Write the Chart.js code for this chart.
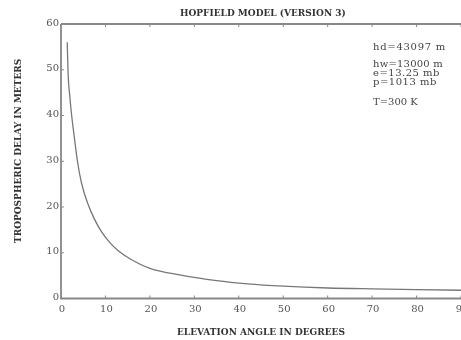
<!DOCTYPE html>
<html>
<head>
<meta charset="utf-8">
<script src="https://cdn.jsdelivr.net/npm/chart.js@4"></script>
<style>
  body { margin: 0; background: #fff; }
  #canvasDoThi { display: block; }
</style>
</head>
<body>
<canvas id="canvasDoThi" width="461" height="340"></canvas>
<script>
// du lieu doc tu hinh
var elevation = [1.4, 1.6, 2.0, 2.4, 2.9, 3.7, 4.6, 6.0, 7.5, 9.1, 11, 12.8, 15.5, 20, 27, 35, 42, 50, 60, 70, 80, 90];
var delay = [56, 49, 44, 40, 36, 30, 25.3, 20.8, 17.4, 14.6, 12.2, 10.5, 8.7, 6.6, 5.1, 3.9, 3.2, 2.7, 2.3, 2.1, 1.95, 1.8];
var xTicks = [0, 10, 20, 30, 40, 50, 60, 70, 80, 90];
var yTicks = [0, 10, 20, 30, 40, 50, 60];
var paramText = [["hd=43097 m", 47, 73], ["hw=13000 m", 64, 70], ["e=13.25 mb", 73, 67], ["p=1013 mb", 82, 64], ["T=300 K", 102, 44]];

var ink = '#555';
var serif = '"DejaVu Serif", "Liberation Serif", serif';

// viet chu gian cho vua be rong
function VietChu(ctx, text, x, y, w) {
    ctx.letterSpacing = '0px';
    var m = ctx.measureText(text).width;
    var sp = (w - m) / text.length;
    ctx.letterSpacing = (sp > 0 ? sp : 0) + 'px';
    ctx.fillText(text, x, y);
    ctx.letterSpacing = '0px';
}

// khung, vach chia, chu
var khung = {
    id: 'khung',
    afterDraw: function (chart) {
        var ctx = chart.ctx, a = chart.chartArea;
        var sx = chart.scales.x, sy = chart.scales.y;
        ctx.save();
        ctx.strokeStyle = '#888';
        ctx.lineWidth = 1.8;
        ctx.beginPath();
        ctx.moveTo(a.left, a.top); ctx.lineTo(a.right + 2, a.top);
        ctx.moveTo(a.left, a.top); ctx.lineTo(a.left, a.bottom);
        ctx.lineTo(a.right + 2, a.bottom);
        ctx.stroke();

        ctx.lineWidth = 1;
        ctx.beginPath();
        for (var i in xTicks) {
            var px = sx.getPixelForValue(xTicks[i]);
            ctx.moveTo(px, a.bottom); ctx.lineTo(px, a.bottom - 3);
            ctx.moveTo(px, a.top); ctx.lineTo(px, a.top + 3);
        }
        for (var j in yTicks) {
            var py = sy.getPixelForValue(yTicks[j]);
            ctx.moveTo(a.left, py); ctx.lineTo(a.left + 3, py);
        }
        ctx.stroke();

        ctx.fillStyle = ink;
        ctx.font = '10px ' + serif;
        ctx.textAlign = 'center';
        ctx.textBaseline = 'middle';
        for (var i in xTicks) {
            ctx.fillText(String(xTicks[i]), sx.getPixelForValue(xTicks[i]) + 1, a.bottom + 11);
        }
        ctx.textAlign = 'right';
        for (var j in yTicks) {
            ctx.fillText(String(yTicks[j]), a.left - 2, sy.getPixelForValue(yTicks[j]) - 1);
        }

        ctx.fillStyle = '#333';
        ctx.font = 'bold 9px ' + serif;
        ctx.textAlign = 'left';
        VietChu(ctx, 'HOPFIELD MODEL (VERSION 3)', 180, 14, 165);
        VietChu(ctx, 'ELEVATION ANGLE IN DEGREES', 177, 333, 168);
        ctx.save();
        ctx.translate(19, 243);
        ctx.rotate(-Math.PI / 2);
        VietChu(ctx, 'TROPOSPHERIC DELAY IN METERS', 0, 0, 150);
        ctx.restore();

        ctx.fillStyle = '#444';
        ctx.font = '10px ' + serif;
        for (var k in paramText) {
            VietChu(ctx, paramText[k][0], 373, paramText[k][1], paramText[k][2]);
        }
        ctx.restore();
    }
};

function VeDoThi() {
    var diem = [];
    for (var i in elevation) {
        diem.push({ x: elevation[i], y: delay[i] });
    }
    new Chart('canvasDoThi', {
        type: 'line',
        data: {
            datasets: [{
                data: diem,
                borderColor: '#777',
                borderWidth: 1.3,
                pointRadius: 0,
                fill: false,
                cubicInterpolationMode: 'monotone'
            }]
        },
        options: {
            responsive: false,
            animation: false,
            layout: { padding: { left: 61, top: 24, right: 0, bottom: 41.5 } },
            plugins: { legend: { display: false }, tooltip: { enabled: false } },
            scales: {
                x: { type: 'linear', min: 0, max: 90, display: false },
                y: { min: 0, max: 60, display: false }
            }
        },
        plugins: [khung]
    });
}

VeDoThi();
</script>
</body>
</html>
